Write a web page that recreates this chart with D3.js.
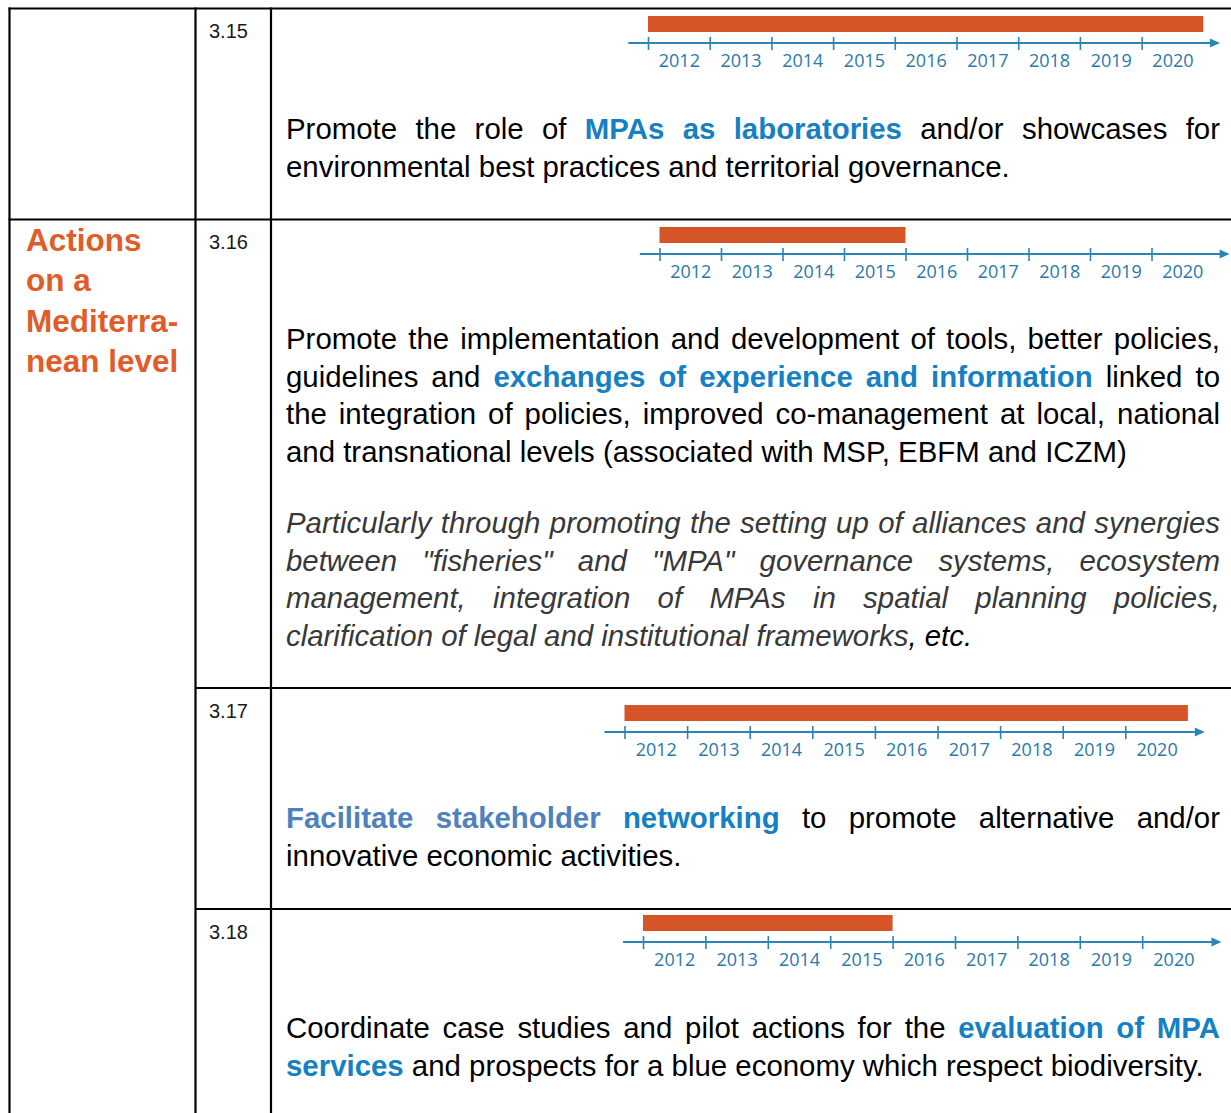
<!DOCTYPE html>
<html>
<head>
<meta charset="utf-8">
<script src="https://cdn.jsdelivr.net/npm/d3@7"></script>
<style>
  html, body { margin: 0; padding: 0; background: #fff; }
  svg { display: block; }
</style>
</head>
<body>
<svg id="chart" width="1231" height="1113"></svg>
<script>
// ---------------- DATA ----------------
const actionIds   = ["3.15", "3.16", "3.17", "3.18"];
const startYears  = [2012, 2012, 2012, 2012];
const endYears    = [2020, 2015, 2020, 2015];   // inclusive
const yearLabels  = ["2012","2013","2014","2015","2016","2017","2018","2019","2020"];
const sectionTitle = ["Actions", "on a", "Mediterra-", "nean level"];

// text runs: [text, style]  n=normal, b=bold blue, bl=bold light blue, i=italic grey, ik=italic black
const text315 = [
  [[["Promote the role of ","n"],["MPAs as laboratories","b"],[" and/or showcases for","n"]], 0, true],
  [[["environmental best practices and territorial governance.","n"]], 0, false]
];
const text316 = [
  [[["Promote the implementation and development of tools, better policies,","n"]], 0, true],
  [[["guidelines and ","n"],["exchanges of experience and information","b"],[" linked to","n"]], 0, true],
  [[["the integration of policies, improved co-management at local, national","n"]], 0, true],
  [[["and transnational levels (associated with MSP, EBFM and ICZM)","n"]], 0, false],
  [[["Particularly through promoting the setting up of alliances and synergies","i"]], 1, true],
  [[["between \"fisheries\" and \"MPA\" governance systems, ecosystem","i"]], 1, true],
  [[["management, integration of MPAs in spatial planning policies,","i"]], 1, true],
  [[["clarification of legal and institutional frameworks","i"],[", etc.","ik"]], 1, false]
];
const text317 = [
  [[["Facilitate stakeholder","bl"],[" ","n"],["networking","b"],[" to promote alternative and/or","n"]], 0, true],
  [[["innovative economic activities.","n"]], 0, false]
];
const text318 = [
  [[["Coordinate case studies and pilot actions for the ","n"],["evaluation of MPA","b"]], 0, true],
  [[["services","b"],[" and prospects for a blue economy which respect biodiversity.","n"]], 0, false]
];
const rowTexts = [text315, text316, text317, text318];

// ---------------- LAYOUT ----------------
const W = 1231, H = 1113;
const colX = [9.5, 195.5, 271];
const rowTops = [8.5, 219.5, 688, 909];
const firstBaseline = [139, 349, 828, 1038];
const lineStep = 37.6, paraGap = 33.5;
const textLeft = 286, textRight = 1220;
// timeline geometry per row: x of 2012 tick, width of one year, axis y
const tlX0   = [648, 659.5, 624.5, 643];
const tlStep = [61.7, 61.5, 62.6, 62.4];
const tlY    = [43, 254, 732, 942];

const styles = {
  n:  {fill:"#000000", weight:"normal", fstyle:"normal"},
  b:  {fill:"#1580c4", weight:"bold",   fstyle:"normal"},
  bl: {fill:"#4f81bd", weight:"bold",   fstyle:"normal"},
  i:  {fill:"#383838", weight:"normal", fstyle:"italic"},
  ik: {fill:"#000000", weight:"normal", fstyle:"italic"}
};
const bodyFont = "'Liberation Sans', Arial, Helvetica, sans-serif";
const bodySize = 29.4;

const svg = d3.select("#chart");
svg.append("rect").attr("width", W).attr("height", H).attr("fill", "#fff");

// ---------------- TABLE GRID ----------------
const grid = svg.append("g").attr("stroke", "#000").attr("stroke-width", 2.2).attr("fill","none");
grid.append("line").attr("x1", colX[0]-1).attr("x2", W).attr("y1", rowTops[0]).attr("y2", rowTops[0]);
grid.append("line").attr("x1", colX[0]-1).attr("x2", W).attr("y1", rowTops[1]).attr("y2", rowTops[1]);
grid.append("line").attr("x1", colX[1]).attr("x2", W).attr("y1", rowTops[2]).attr("y2", rowTops[2]);
grid.append("line").attr("x1", colX[1]).attr("x2", W).attr("y1", rowTops[3]).attr("y2", rowTops[3]);
colX.forEach(x => grid.append("line").attr("x1", x).attr("x2", x).attr("y1", rowTops[0]-1).attr("y2", H));

// ---------------- SECTION TITLE ----------------
svg.append("g").selectAll("text").data(sectionTitle).join("text")
  .attr("x", 26).attr("y", (d,i) => 251 + i*40.3)
  .attr("font-family", bodyFont).attr("font-weight", "bold").attr("font-size", 31.5)
  .attr("fill", "#e05c28").text(d => d);

// ---------------- ACTION NUMBERS ----------------
svg.append("g").selectAll("text").data(actionIds).join("text")
  .attr("x", 209).attr("y", (d,i) => rowTops[i] + 29.5)
  .attr("font-family", bodyFont).attr("font-size", 20).attr("fill", "#1a1a1a")
  .text(d => d);

// ---------------- TIMELINES ----------------
const years = yearLabels.map(Number);
const axisColor = "#2a86b9";
actionIds.forEach((id, r) => {
  const x = d3.scaleLinear().domain([2012, 2021]).range([tlX0[r], tlX0[r] + 9*tlStep[r]]);
  const g = svg.append("g").attr("transform", `translate(0,${tlY[r]})`);
  // bar
  g.append("rect")
    .attr("x", x(startYears[r])).attr("width", x(endYears[r] + 1) - x(startYears[r]))
    .attr("y", -27).attr("height", 16).attr("fill", "#d65528");
  // main line + arrow
  const xa = x(2011.68), xb = x(2021.27);
  g.append("line").attr("x1", xa).attr("x2", xb - 6).attr("y1", 0).attr("y2", 0)
    .attr("stroke", axisColor).attr("stroke-width", 2);
  g.append("path").attr("d", `M${xb},0 L${xb-10},-4.5 L${xb-10},4.5 Z`).attr("fill", axisColor);
  // ticks
  const tickAxis = g.append("g").attr("transform", "translate(0,-6)")
    .call(d3.axisBottom(x).tickValues(years).tickSize(13).tickFormat(""));
  tickAxis.select(".domain").remove();
  tickAxis.selectAll(".tick line").attr("stroke", axisColor).attr("stroke-width", 1.6);
  // labels
  const labelAxis = g.append("g")
    .call(d3.axisBottom(x).tickValues(years.map(y => y + 0.5)).tickSize(0).tickPadding(11)
      .tickFormat((d,i) => yearLabels[i]));
  labelAxis.select(".domain").remove();
  labelAxis.selectAll(".tick text")
    .attr("font-family", "'Open Sans', 'DejaVu Sans Condensed', sans-serif")
    .attr("font-size", 18).attr("fill", "#2a79a9");
});

// ---------------- JUSTIFIED TEXT ----------------
const measure = svg.append("text").attr("font-family", bodyFont).attr("font-size", bodySize)
  .attr("x", -1000).attr("y", -1000).attr("xml:space", "preserve").style("white-space", "pre");
function widthOf(str, st) {
  const s = styles[st];
  measure.attr("font-weight", s.weight).attr("font-style", s.fstyle).text(str);
  return measure.node().getComputedTextLength();
}
function tokenize(runs) {
  const words = [];
  let cur = [];
  runs.forEach(([t, st]) => {
    const parts = t.split(" ");
    parts.forEach((p, k) => {
      if (k > 0) { if (cur.length) words.push(cur); cur = []; }
      if (p.length) cur.push([p, st]);
    });
  });
  if (cur.length) words.push(cur);
  return words;
}
const spaceW = widthOf("a a", "n") - widthOf("aa", "n");
const textG = svg.append("g").attr("font-family", bodyFont).attr("font-size", bodySize);
rowTexts.forEach((lines, r) => {
  let lineIndex = 0;
  lines.forEach(([runs, para, justify]) => {
    const y = firstBaseline[r] + lineIndex*lineStep + para*paraGap;
    lineIndex++;
    const words = tokenize(runs);
    const wWidths = words.map(w => d3.sum(w, p => widthOf(p[0], p[1])));
    const total = d3.sum(wWidths);
    const gap = (justify && words.length > 1) ? (textRight - textLeft - total) / (words.length - 1) : spaceW;
    const t = textG.append("text").attr("y", y);
    let xpos = textLeft;
    words.forEach((w, wi) => {
      w.forEach((p, pi) => {
        const s = styles[p[1]];
        const ts = t.append("tspan").attr("fill", s.fill).attr("font-weight", s.weight)
          .attr("font-style", s.fstyle).text(p[0]);
        if (pi === 0) ts.attr("x", xpos);
      });
      xpos += wWidths[wi] + gap;
    });
  });
});
measure.remove();
</script>
</body>
</html>
